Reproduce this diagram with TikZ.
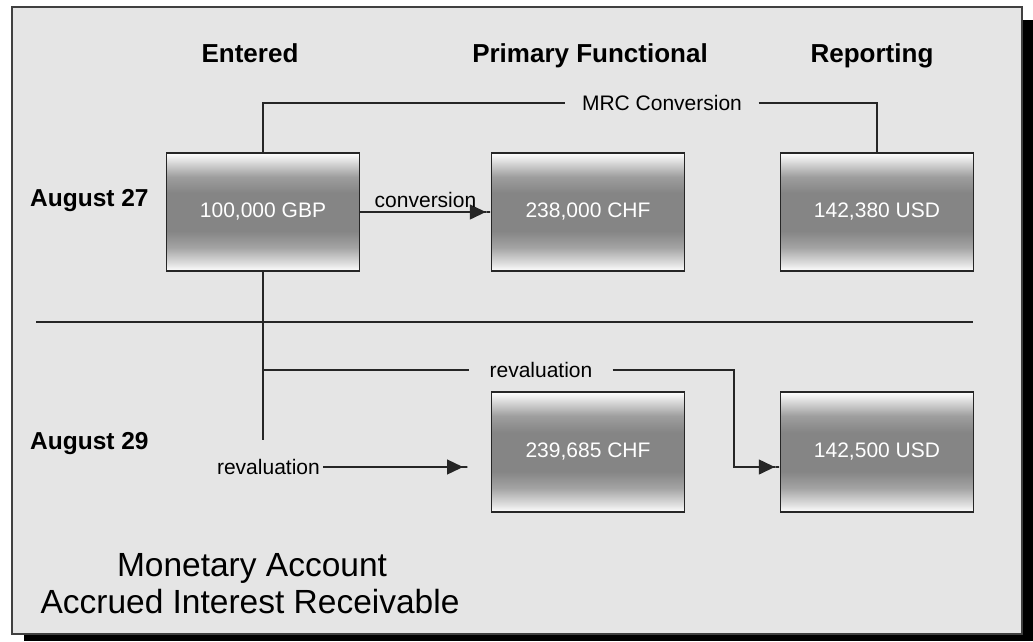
\documentclass[tikz,border=0pt]{standalone}
\usepackage{fontspec}
\setmainfont{Liberation Sans}
\usetikzlibrary{arrows.meta}
% grey band shading of the amount boxes (25bp = bottom edge, 75bp = top edge)
\pgfdeclareverticalshading{boxshade}{100bp}{color(0bp)=(white); color(25bp)=(white);
  color(28bp)=(black!12); color(35bp)=(black!36); color(42bp)=(black!48);
  color(58bp)=(black!48); color(65bp)=(black!38); color(71bp)=(black!15);
  color(75bp)=(white); color(100bp)=(white)}
\begin{document}
\begin{tikzpicture}[x=1pt,y=-1pt,
    amount/.style={draw=black!85,line width=1.4pt,shading=boxshade,
      minimum width=193pt,minimum height=118pt,text=white,
      font=\fontsize{21}{25}\selectfont},
    head/.style={font=\bfseries\fontsize{26}{30}\selectfont},
    day/.style={font=\bfseries\fontsize{24.5}{28}\selectfont},
    lbl/.style={font=\fontsize{21}{25}\selectfont},
    link/.style={draw=black!85,line width=1.3pt},
    arr/.style={-{Triangle[length=16pt,width=15pt]Rectangle[length=5pt,width=1.3pt]}}]
    \useasboundingbox (0,0) rectangle (1033,641);
    % panel with its shadow
    \fill[black] (24,20) rectangle (1033,641);
    \draw[black!75,line width=2pt,fill=black!10] (12,7) rectangle (1022,634);
    % column heads
    \node[head,anchor=base] (entered) at (250,62) {Entered};
    \node[head,anchor=base] (primary) at (590,62) {Primary Functional};
    \node[head,anchor=base] (reporting) at (872,62) {Reporting};
    % dates
    \node[day,anchor=base west,inner xsep=0pt] (aug27) at (30,206) {August 27};
    \node[day,anchor=base west,inner xsep=0pt] (aug29) at (30,449) {August 29};
    % amounts
    \node[amount] (gbp) at (263,212) {100,000 GBP};
    \node[amount] (chf1) at (588,212) {238,000 CHF};
    \node[amount] (usd1) at (877,212) {142,380 USD};
    \node[amount,minimum height=120pt] (chf2) at (588,452) {239,685 CHF};
    \node[amount,minimum height=120pt] (usd2) at (877,452) {142,500 USD};
    % line labels
    \node[lbl,inner xsep=16.5pt] (mrc) at (662,103) {MRC Conversion};
    \node[lbl,inner xsep=20pt] (reval1) at (541,370) {revaluation};
    \node[lbl,anchor=east,inner xsep=3pt] (reval2) at (323,467) {revaluation};
    \coordinate (branch) at (263,370);
    \coordinate (stem) at (263,440);
    \coordinate (bend) at (734,467);
    \coordinate (end1) at (468,467);
    \coordinate (end2) at (usd2.west |- bend);
    % connectors
    \draw[link] (gbp.north) |- (mrc.west);
    \draw[link] (mrc.east) -| (usd1.north);
    \draw[link,arr] (gbp.east) -- node[lbl,above,inner sep=4pt] (convlbl) {conversion} (chf1.west);
    \draw[link] (36,322) -- (973,322);
    \draw[link] (gbp.south) -- (stem);
    \draw[link] (branch) -- (reval1.west);
    \draw[link,arr] (reval1.east) -| (bend) -- (end2);
    \draw[link,arr] (reval2.east) -- (end1);
    % account name
    \node[anchor=base,inner sep=0pt,font=\fontsize{33.5}{37}\selectfont] (title1) at (252,576) {Monetary Account};
    \node[anchor=base,inner sep=0pt,font=\fontsize{33.5}{37}\selectfont] (title2) at (250,613) {Accrued Interest Receivable};
\end{tikzpicture}
\end{document}
